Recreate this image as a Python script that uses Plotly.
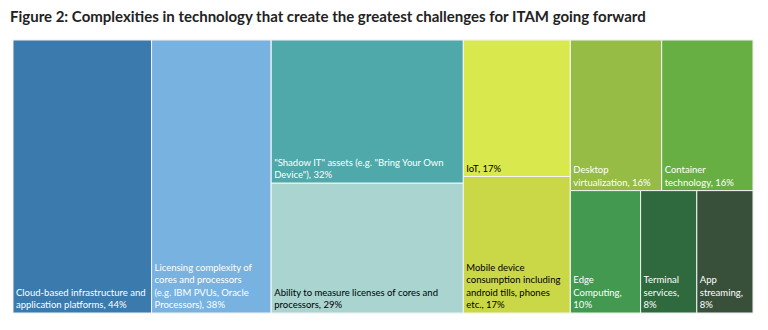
import plotly.graph_objects as go

# ---- data ----
categories = [
    "Cloud-based infrastructure and application platforms",
    "Licensing complexity of cores and processors (e.g. IBM PVUs, Oracle Processors)",
    "\"Shadow IT\" assets (e.g. \"Bring Your Own Device\")",
    "Ability to measure licenses of cores and processors",
    "IoT",
    "Mobile device consumption including android tills, phones etc.",
    "Desktop virtualization",
    "Container technology",
    "Edge Computing",
    "Terminal services",
    "App streaming",
]
values = [44, 38, 32, 29, 17, 17, 16, 16, 10, 8, 8]
display_labels = [
    "Cloud-based infrastructure and<br>application platforms, 44%",
    "Licensing complexity of<br>cores and processors<br>(e.g. IBM PVUs, Oracle<br>Processors), 38%",
    "\"Shadow IT\" assets (e.g. \"Bring Your Own<br>Device\"), 32%",
    "Ability to measure licenses of cores and<br>processors, 29%",
    "IoT, 17%",
    "Mobile device<br>consumption including<br>android tills, phones<br>etc., 17%",
    "Desktop<br>virtualization, 16%",
    "Container<br>technology, 16%",
    "Edge<br>Computing,<br>10%",
    "Terminal<br>services,<br>8%",
    "App<br>streaming,<br>8%",
]
# layout grouping (columns / rows of the treemap)
groups = ["root", "root", "colA", "colA", "colB", "colB", "rowTop", "rowTop", "rowBot", "rowBot", "rowBot"]
group_parents = {"colA": "root", "colB": "root", "colC": "root", "rowTop": "colC", "rowBot": "colC"}
colors = ["#3a7aad", "#78b2e0", "#4fa8a9", "#a9d4d0", "#d9e84c", "#cad746",
          "#96bc45", "#68af43", "#43994f", "#2e6a3d", "#38503a"]
text_colors = ["white", "white", "white", "black", "black", "black",
               "white", "white", "white", "white", "white"]

# ---- build hierarchy ----
ids, parents, vals, texts, cols, tcols = [], [], [], [], [], []
group_order = ["root", "colA", "colB", "colC", "rowTop", "rowBot"]
totals = {g: 0 for g in group_order}
for g, v in zip(groups, values):
    node = g
    while True:
        totals[node] += v
        if node == "root":
            break
        node = group_parents[node]

ids.append("root"); parents.append(""); vals.append(totals["root"]); texts.append(""); cols.append("white"); tcols.append("white")

def add_group(g):
    ids.append(g); parents.append(group_parents[g]); vals.append(totals[g]); texts.append(""); cols.append("white"); tcols.append("white")

def add_leaf(i):
    ids.append(categories[i]); parents.append(groups[i]); vals.append(values[i])
    texts.append(display_labels[i]); cols.append(colors[i]); tcols.append(text_colors[i])

add_leaf(0); add_leaf(1)
add_group("colA"); add_leaf(2); add_leaf(3)
add_group("colB"); add_leaf(4); add_leaf(5)
add_group("colC")
add_group("rowTop"); add_leaf(6); add_leaf(7)
add_group("rowBot"); add_leaf(8); add_leaf(9); add_leaf(10)

FONT = "Lato, sans-serif"

fig = go.Figure(go.Treemap(
    ids=ids,
    labels=ids,
    parents=parents,
    values=vals,
    text=texts,
    branchvalues="total",
    sort=False,
    texttemplate="%{text}",
    textposition="bottom left",
    textfont=dict(family=FONT, size=9.5, color=tcols),
    marker=dict(colors=cols, line=dict(color="#f4f4f4", width=1),
                pad=dict(t=0, l=0, r=0, b=0)),
    tiling=dict(packing="slice-dice", pad=0),
    pathbar=dict(visible=False),
    hoverinfo="skip",
))

fig.update_layout(
    width=768, height=330,
    margin=dict(l=13, r=15, t=40, b=17),
    paper_bgcolor="white",
    uniformtext=dict(minsize=9.5, mode="show"),
    title=dict(
        text="<b>Figure 2: Complexities in technology that create the greatest challenges for ITAM going forward</b>",
        x=0.013, xanchor="left", y=0.95, yanchor="middle",
        font=dict(family="Lato, Open Sans, sans-serif", size=15, color="#222222"),
    ),
)

fig.write_html("out.html")
